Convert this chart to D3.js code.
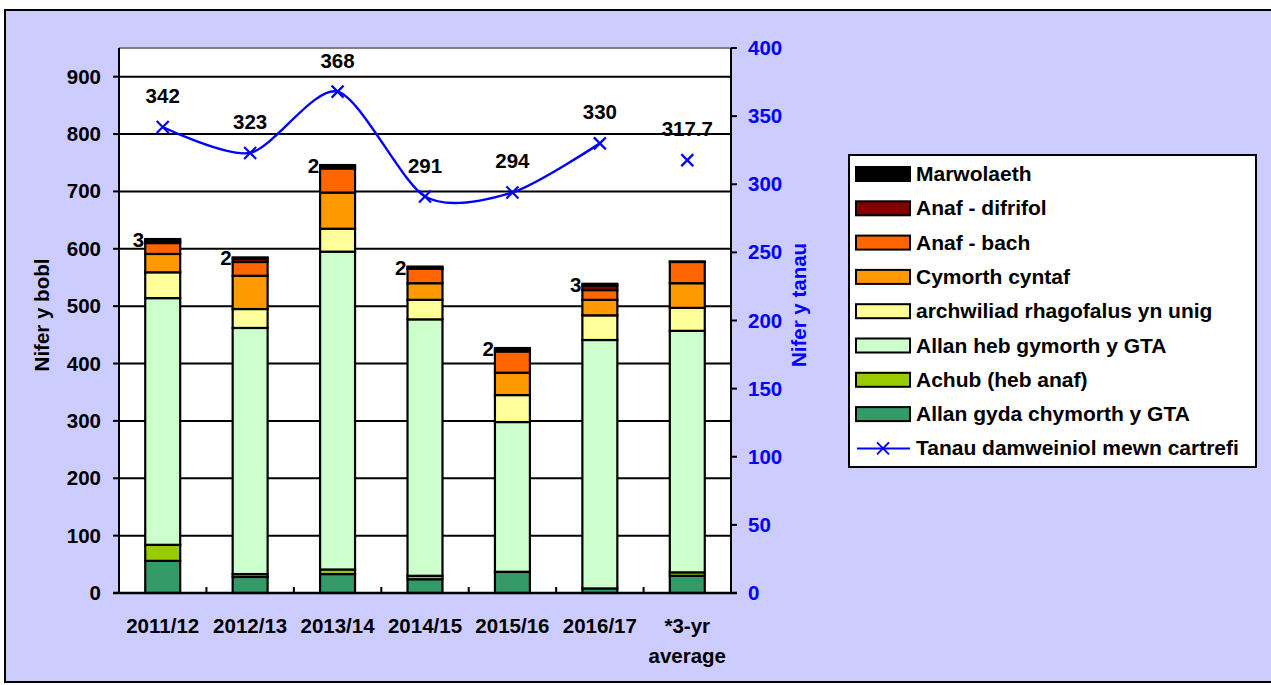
<!DOCTYPE html>
<html><head><meta charset="utf-8">
<script src="https://cdn.jsdelivr.net/npm/d3@7"></script>
<style>body{margin:0;background:#fff}svg{display:block;font-family:"Liberation Sans",Arial,sans-serif;font-weight:bold}</style>
</head><body>
<svg id="c" width="1271" height="685"></svg>
<script>
const categories = ["2011/12","2012/13","2013/14","2014/15","2015/16","2016/17","*3-yr average"];
const allanGyda   = [56, 28, 33, 24, 37, 8, 30];
const achub       = [28, 5, 8, 6, 0, 0, 6];
const allanHeb    = [430, 429, 554, 447, 261, 433, 421];
const archwiliad  = [45, 33, 40, 34, 47, 43, 40];
const cymorth     = [32, 58, 63, 29, 39, 27, 43];
const anafBach    = [19, 24, 42, 25, 37, 17, 37];
const anafDifrifol= [4, 6, 4, 2, 4, 8, 1];
const marwolaeth  = [3, 2, 2, 2, 2, 3, 0];
const deathLabels = ["3","2","2","2","2","3",""];
const tanau       = [342, 323, 368, 291, 294, 330, 317.7];
const leftTicks = [0,100,200,300,400,500,600,700,800,900];
const rightTicks = [0,50,100,150,200,250,300,350,400];

const series = [
  {name:"Allan gyda chymorth y GTA", vals:allanGyda, color:"#339966"},
  {name:"Achub (heb anaf)", vals:achub, color:"#99CC00"},
  {name:"Allan heb gymorth y GTA", vals:allanHeb, color:"#CCFFCC"},
  {name:"archwiliad rhagofalus yn unig", vals:archwiliad, color:"#FFFF99"},
  {name:"Cymorth cyntaf", vals:cymorth, color:"#FF9900"},
  {name:"Anaf - bach", vals:anafBach, color:"#FF6600"},
  {name:"Anaf - difrifol", vals:anafDifrifol, color:"#800000"},
  {name:"Marwolaeth", vals:marwolaeth, color:"#000000"}
];
const FS = 20.5;

const svg = d3.select("#c");
svg.append("rect").attr("x",5).attr("y",10).attr("width",1280).attr("height",672)
  .attr("fill","#CCCCFF").attr("stroke","#000").attr("stroke-width",2);

const L=119, R=731, T=48, B=593;
const x = d3.scaleBand().domain(categories).range([L,R]).paddingInner(0.6).paddingOuter(0.3);
const yL = d3.scaleLinear().domain([0,950]).range([B,T]);
const yR = d3.scaleLinear().domain([0,400]).range([B,T]);

svg.append("rect").attr("x",L).attr("y",T).attr("width",R-L).attr("height",B-T).attr("fill","#fff");
svg.append("line").attr("x1",L).attr("x2",R).attr("y1",T).attr("y2",T).attr("stroke","#808080").attr("stroke-width",2);

// gridlines
svg.append("g").selectAll("line").data(leftTicks.filter(d=>d>0)).join("line")
  .attr("x1",L).attr("x2",R).attr("y1",d=>yL(d)).attr("y2",d=>yL(d))
  .attr("stroke","#000").attr("stroke-width",2);

// stacked bars
const stackData = categories.map((c,i)=>{const o={cat:c}; series.forEach(s=>o[s.name]=s.vals[i]); return o;});
const stacked = d3.stack().keys(series.map(s=>s.name))(stackData);
stacked.forEach((layer,li)=>{
  svg.append("g").selectAll("rect").data(layer).join("rect")
    .attr("x",d=>x(d.data.cat)).attr("width",x.bandwidth())
    .attr("y",d=>yL(d[1])).attr("height",d=>Math.max(0,yL(d[0])-yL(d[1])))
    .attr("fill",series[li].color).attr("stroke","#000").attr("stroke-width",2.2);
});
// death labels
const topLayer = stacked[stacked.length-1];
svg.append("g").selectAll("text").data(topLayer).join("text")
  .attr("x",d=>x(d.data.cat)-1).attr("y",d=>yL(d[1])+8)
  .attr("text-anchor","end").attr("font-size",FS).attr("fill","#000")
  .text((d,i)=>deathLabels[i]);

// axes
const axG = svg.append("g");
axG.append("line").attr("x1",L).attr("x2",L).attr("y1",T).attr("y2",B).attr("stroke","#000").attr("stroke-width",2);
axG.append("line").attr("x1",R).attr("x2",R).attr("y1",T).attr("y2",B).attr("stroke","#000").attr("stroke-width",2);
axG.append("line").attr("x1",L-6).attr("x2",R+6).attr("y1",B).attr("y2",B).attr("stroke","#000").attr("stroke-width",2.5);
axG.selectAll(".lt").data(leftTicks).join("line").attr("x1",L-6).attr("x2",L).attr("y1",d=>yL(d)).attr("y2",d=>yL(d)).attr("stroke","#000").attr("stroke-width",2);
axG.selectAll(".ltx").data(leftTicks).join("text").attr("x",101).attr("y",d=>yL(d)+7)
  .attr("text-anchor","end").attr("font-size",FS).text(d=>d);
axG.selectAll(".rt").data(rightTicks).join("line").attr("x1",R).attr("x2",R+6).attr("y1",d=>yR(d)).attr("y2",d=>yR(d)).attr("stroke","#000").attr("stroke-width",2);
axG.selectAll(".rtx").data(rightTicks).join("text").attr("x",748).attr("y",d=>yR(d)+7)
  .attr("text-anchor","start").attr("font-size",FS).attr("fill","#0000FF").text(d=>d);
// category ticks
const step = x.step();
const bounds = d3.range(1,categories.length).map(i=>L + i*step);
axG.selectAll(".ct").data(bounds).join("line").attr("x1",d=>d).attr("x2",d=>d).attr("y1",B).attr("y2",B-6).attr("stroke","#000").attr("stroke-width",2);
categories.forEach(c=>{
  const cx = x(c)+x.bandwidth()/2;
  const parts = c==="*3-yr average" ? ["*3-yr","average"] : [c];
  parts.forEach((p,k)=>axG.append("text").attr("x",cx).attr("y",633+k*30).attr("text-anchor","middle").attr("font-size",FS).text(p));
});
// axis titles
svg.append("text").attr("transform","translate(49,"+315+") rotate(-90)").attr("text-anchor","middle").attr("font-size",FS).text("Nifer y bobl");
svg.append("text").attr("transform","translate(806,"+305+") rotate(-90)").attr("text-anchor","middle").attr("font-size",FS).attr("fill","#0000FF").text("Nifer y tanau");

// line
const cxf = (i)=>x(categories[i])+x.bandwidth()/2;
const linePts = tanau.slice(0,6).map((v,i)=>[cxf(i),yR(v)]);
svg.append("path").attr("d",d3.line().curve(d3.curveCardinal.tension(0.2))(linePts))
  .attr("fill","none").attr("stroke","#0000FF").attr("stroke-width",2.4);
const mk = svg.append("g");
tanau.forEach((v,i)=>{
  const px=cxf(i), py=yR(v), s=6;
  mk.append("path").attr("d",`M${px-s},${py-s}L${px+s},${py+s}M${px-s},${py+s}L${px+s},${py-s}`).attr("stroke","#0000FF").attr("stroke-width",2.2);
  mk.append("text").attr("x",px).attr("y",py-24).attr("text-anchor","middle").attr("font-size",FS).text(v);
});

// legend
const lg = svg.append("g");
lg.append("rect").attr("x",849).attr("y",155).attr("width",407).attr("height",312).attr("fill","#fff").attr("stroke","#000").attr("stroke-width",2);
const legItems = series.slice().reverse();
legItems.forEach((s,i)=>{
  const yy = 174 + i*34.3;
  lg.append("rect").attr("x",856).attr("y",yy-7).attr("width",54).attr("height",14).attr("fill",s.color).attr("stroke","#000").attr("stroke-width",2);
  lg.append("text").attr("x",916).attr("y",yy+7).attr("font-size",21).text(s.name);
});
{
  const yy = 174 + 8*34.3;
  lg.append("line").attr("x1",857).attr("x2",910).attr("y1",yy).attr("y2",yy).attr("stroke","#0000FF").attr("stroke-width",2);
  lg.append("path").attr("d",`M877,${yy-6}L889,${yy+6}M877,${yy+6}L889,${yy-6}`).attr("stroke","#0000FF").attr("stroke-width",2);
  lg.append("text").attr("x",916).attr("y",yy+7).attr("font-size",21).text("Tanau damweiniol mewn cartrefi");
}
</script>
</body></html>
